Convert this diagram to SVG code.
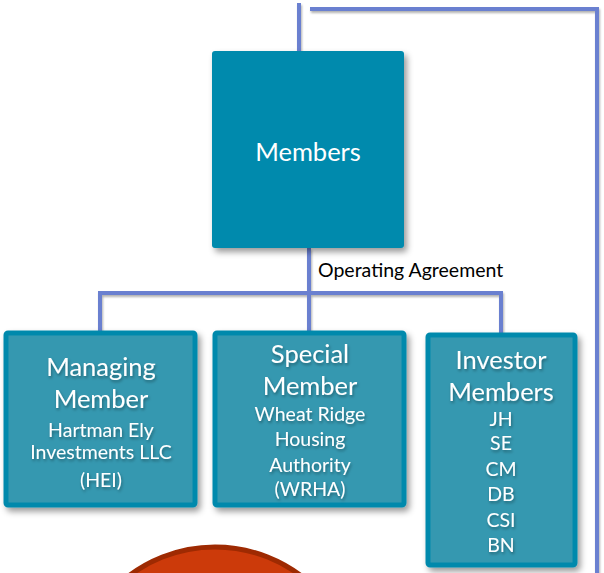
<svg xmlns="http://www.w3.org/2000/svg" width="604" height="573" viewBox="0 0 604 573">
<defs>
<filter id="sh" x="-10%" y="-10%" width="130%" height="130%">
<feDropShadow dx="3" dy="4" stdDeviation="3" flood-color="#000" flood-opacity="0.4"/>
</filter>
<filter id="tsh" x="-20%" y="-20%" width="140%" height="160%">
<feDropShadow dx="1" dy="2" stdDeviation="1.5" flood-color="#000" flood-opacity="0.35"/>
</filter>
<filter id="lsh" x="-10%" y="-10%" width="130%" height="130%">
<feDropShadow dx="1" dy="2" stdDeviation="1.2" flood-color="#000" flood-opacity="0.3"/>
</filter>
</defs>
<style>
.ln{fill:none;stroke:#6A80D0;stroke-width:4}
.box{fill:#3598B0;stroke:#0089AC;stroke-width:5}
.t{font-family:Lato,"Open Sans",sans-serif;fill:#fff;text-anchor:middle}
.big{font-size:25.5px}
.sm{font-size:19.5px}
</style>
<g id="circle">
<circle cx="215" cy="690" r="143" fill="#CC3A0A" stroke="#9E2A02" stroke-width="5"/>
</g>
<g id="connectors" filter="url(#lsh)">
<polyline class="ln" points="299,3 299,52"/>
<polyline class="ln" points="310,9 597,9 597,573"/>
<polyline class="ln" points="309,248 309,293"/>
<polyline class="ln" points="100,331 100,293 501,293 501,333"/>
<polyline class="ln" points="309,293 309,331"/>
</g>
<text x="318" y="277" font-family="Lato,'Open Sans',sans-serif" font-size="19.5" fill="#000">Operating Agreement</text>
<g id="members">
<rect x="212" y="51" width="192" height="197" rx="3" fill="#008AAD" filter="url(#sh)"/>
<text class="t big" x="308" y="161">Members</text>
</g>
<g id="managing">
<rect class="box" x="6" y="333" width="189" height="172" rx="2" filter="url(#sh)"/>
<g class="t" filter="url(#tsh)">
<text class="big" x="101" y="376">Managing</text>
<text class="big" x="101" y="408">Member</text>
<text class="sm" x="101" y="437">Hartman Ely</text>
<text class="sm" x="101" y="459">Investments LLC</text>
<text class="sm" x="101" y="487">(HEI)</text>
</g>
</g>
<g id="special">
<rect class="box" x="215" y="333" width="189" height="172" rx="2" filter="url(#sh)"/>
<g class="t" filter="url(#tsh)">
<text class="big" x="310" y="363">Special</text>
<text class="big" x="310" y="395">Member</text>
<text class="sm" x="310" y="421">Wheat Ridge</text>
<text class="sm" x="310" y="446">Housing</text>
<text class="sm" x="310" y="472">Authority</text>
<text class="sm" x="310" y="496">(WRHA)</text>
</g>
</g>
<g id="investor">
<rect class="box" x="428" y="335" width="147" height="230" rx="2" filter="url(#sh)"/>
<g class="t" filter="url(#tsh)">
<text class="big" x="501" y="369">Investor</text>
<text class="big" x="501" y="401">Members</text>
<text class="sm" x="501" y="426">JH</text>
<text class="sm" x="501" y="450">SE</text>
<text class="sm" x="501" y="476">CM</text>
<text class="sm" x="501" y="501">DB</text>
<text class="sm" x="501" y="527">CSI</text>
<text class="sm" x="501" y="552">BN</text>
</g>
</g>
</svg>
